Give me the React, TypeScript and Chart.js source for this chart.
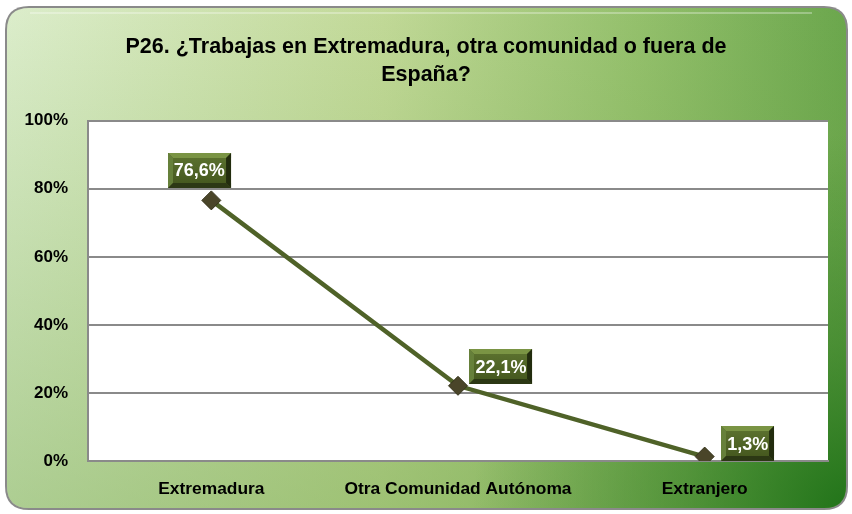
import React, { useEffect, useRef } from "react";
import { Chart, registerables } from "chart.js";
Chart.register(...registerables);

const categories = ["Extremadura", "Otra Comunidad Autónoma", "Extranjero"];
const values = [76.6, 22.1, 1.3];
const valueLabels = ["76,6%", "22,1%", "1,3%"];
const yTickValues = [0, 20, 40, 60, 80, 100];
const titleLines = ["P26. ¿Trabajas en Extremadura, otra comunidad o fuera de", "España?"];

const FONT = "'Liberation Sans', Arial, sans-serif";
const labelOffsets = [[-12, -30], [43, -19], [43, -13]];

function roundRect(ctx: CanvasRenderingContext2D, x: number, y: number, w: number, h: number, r: number) {
  ctx.beginPath();
  ctx.moveTo(x + r, y);
  ctx.lineTo(x + w - r, y);
  ctx.quadraticCurveTo(x + w, y, x + w, y + r);
  ctx.lineTo(x + w, y + h - r);
  ctx.quadraticCurveTo(x + w, y + h, x + w - r, y + h);
  ctx.lineTo(x + r, y + h);
  ctx.quadraticCurveTo(x, y + h, x, y + h - r);
  ctx.lineTo(x, y + r);
  ctx.quadraticCurveTo(x, y, x + r, y);
  ctx.closePath();
}

const backgroundPlugin = {
  id: "panelBg",
  beforeDraw(chart: any) {
    const { ctx, width, height, chartArea } = chart;
    ctx.save();
    roundRect(ctx, 5, 6, width - 9, height - 10, 24);
    ctx.fillStyle = "#8a8a8a";
    ctx.fill();
    const px = 7, py = 8, pw = width - 13, ph = height - 14, pr = 22;
    const g = ctx.createLinearGradient(0, 0, width, 0);
    g.addColorStop(0, "#ddeecd");
    g.addColorStop(0.45, "#c2d998");
    g.addColorStop(0.75, "#94c06c");
    g.addColorStop(1, "#6aa64c");
    roundRect(ctx, px, py, pw, ph, pr);
    ctx.fillStyle = g;
    ctx.fill();
    const v = ctx.createLinearGradient(0, 0, 0, height);
    v.addColorStop(0, "rgba(106,160,64,0)");
    v.addColorStop(1, "rgba(106,160,64,0.42)");
    roundRect(ctx, px, py, pw, ph, pr);
    ctx.fillStyle = v;
    ctx.fill();
    const r = ctx.createRadialGradient(width, height, 0, width, height, 380);
    r.addColorStop(0, "rgba(28,112,22,0.95)");
    r.addColorStop(0.45, "rgba(40,120,30,0.5)");
    r.addColorStop(1, "rgba(40,120,30,0)");
    roundRect(ctx, px, py, pw, ph, pr);
    ctx.fillStyle = r;
    ctx.fill();
    ctx.strokeStyle = "rgba(255,255,255,0.3)";
    ctx.lineWidth = 2;
    ctx.beginPath();
    ctx.moveTo(30, 13);
    ctx.lineTo(width - 40, 13);
    ctx.stroke();
    ctx.fillStyle = "#ffffff";
    ctx.fillRect(chartArea.left, chartArea.top, chartArea.right - chartArea.left, chartArea.bottom - chartArea.top);
    ctx.restore();
  },
};

const labelPlugin = {
  id: "valueBoxes",
  afterDatasetsDraw(chart: any) {
    const { ctx } = chart;
    const meta = chart.getDatasetMeta(0);
    ctx.save();
    ctx.font = `bold 18px ${FONT}`;
    ctx.textAlign = "center";
    ctx.textBaseline = "middle";
    meta.data.forEach((pt: any, i: number) => {
      const txt = valueLabels[i];
      const tw = ctx.measureText(txt).width;
      const w = tw + 12;
      const h = 35;
      const cx = pt.x + labelOffsets[i][0];
      const cy = pt.y + labelOffsets[i][1];
      const x = Math.round(cx - w / 2);
      const y = Math.round(cy - h / 2);
      const b = 5;
      ctx.fillStyle = "#4f6228";
      ctx.fillRect(x, y, w, h);
      ctx.fillStyle = "#7a9444";
      ctx.beginPath();
      ctx.moveTo(x, y); ctx.lineTo(x + w, y); ctx.lineTo(x + w - b, y + b); ctx.lineTo(x + b, y + b); ctx.closePath(); ctx.fill();
      ctx.fillStyle = "#66803a";
      ctx.beginPath();
      ctx.moveTo(x, y); ctx.lineTo(x + b, y + b); ctx.lineTo(x + b, y + h - b); ctx.lineTo(x, y + h); ctx.closePath(); ctx.fill();
      ctx.fillStyle = "#2c3814";
      ctx.beginPath();
      ctx.moveTo(x, y + h); ctx.lineTo(x + b, y + h - b); ctx.lineTo(x + w - b, y + h - b); ctx.lineTo(x + w, y + h); ctx.closePath(); ctx.fill();
      ctx.fillStyle = "#222c0e";
      ctx.beginPath();
      ctx.moveTo(x + w, y); ctx.lineTo(x + w, y + h); ctx.lineTo(x + w - b, y + h - b); ctx.lineTo(x + w - b, y + b); ctx.closePath(); ctx.fill();
      const ig = ctx.createLinearGradient(0, y + b, 0, y + h - b);
      ig.addColorStop(0, "#5a702e");
      ig.addColorStop(1, "#46591f");
      ctx.fillStyle = ig;
      ctx.fillRect(x + b, y + b, w - 2 * b, h - 2 * b);
      ctx.fillStyle = "#ffffff";
      ctx.fillText(txt, cx, cy + 1);
    });
    ctx.restore();
  },
};

export default function App() {
  const ref = useRef<HTMLCanvasElement>(null);
  useEffect(() => {
    document.body.style.margin = "0";
    const canvas = ref.current!;
    const chart = new Chart(canvas, {
      type: "line",
      data: {
        labels: categories,
        datasets: [
          {
            data: values,
            borderColor: "#4f6228",
            borderWidth: 4.5,
            pointStyle: "rectRot",
            pointRadius: 9.5,
            pointBackgroundColor: "#4a4529",
            pointBorderColor: "#36341c",
            pointBorderWidth: 1,
            tension: 0,
          },
        ],
      },
      options: {
        responsive: false,
        animation: false,
        devicePixelRatio: 1,
        layout: { padding: { left: 0, right: 0, top: 0, bottom: 0 } },
        plugins: {
          legend: { display: false },
          tooltip: { enabled: false },
          title: {
            display: true,
            text: titleLines,
            color: "#000000",
            font: { family: FONT, size: 21.5, weight: "bold", lineHeight: 1.32 },
            padding: { top: 33, bottom: 31 },
          },
        },
        scales: {
          x: {
            offset: true,
            grid: { display: false, drawTicks: false },
            border: { display: true, color: "#8a8a8a", width: 2 },
            ticks: { color: "#000000", font: { family: FONT, size: 17.4, weight: "bold" }, padding: 18, maxRotation: 0 },
            afterFit(scale: any) { scale.height = 53; },
          },
          y: {
            min: 0,
            max: 100,
            afterBuildTicks(scale: any) { scale.ticks = yTickValues.map((v) => ({ value: v })); },
            grid: { color: "#8a8a8a", lineWidth: 2, drawTicks: false },
            border: { display: true, color: "#8a8a8a", width: 2 },
            ticks: {
              color: "#000000",
              font: { family: FONT, size: 17, weight: "bold" },
              padding: 20,
              callback: (v: any) => `${v}%`,
            },
            afterFit(scale: any) { scale.width = 88; },
          },
          yRightGap: {
            position: "right",
            min: 0,
            max: 100,
            grid: { display: false, drawTicks: false },
            border: { display: false },
            ticks: { display: false },
            afterFit(scale: any) { scale.width = 24; },
          },
        },
      },
      plugins: [backgroundPlugin, labelPlugin],
    });
    return () => chart.destroy();
  }, []);
  return <canvas ref={ref} width={852} height={514} style={{ display: "block" }} />;
}
